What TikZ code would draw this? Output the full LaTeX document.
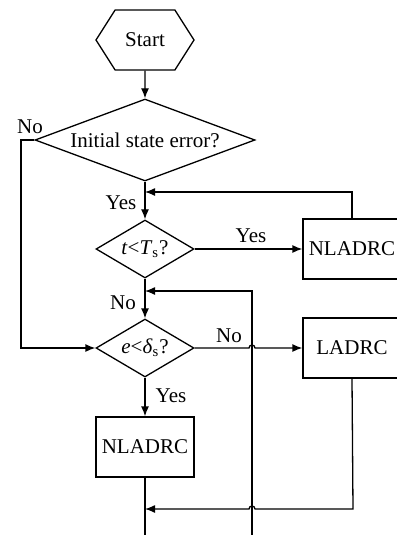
\documentclass[tikz,border=0pt]{standalone}
\usepackage{fontspec}
\setmainfont{Liberation Serif}
\usetikzlibrary{shapes.geometric, shapes.symbols, arrows.meta}

\begin{document}
\begin{tikzpicture}[x=0.5pt, y=-0.5pt, line width=0.65pt,
  font=\fontsize{10.5}{12}\selectfont,
  >={Latex[length=5pt, width=4pt]},
  box/.style={draw, rectangle, minimum width=49pt, minimum height=30pt, inner sep=0pt},
  cond/.style={draw, diamond, inner sep=0pt},
  lbl/.style={inner sep=0pt}]

  \useasboundingbox (0, 0) rectangle (396, 535);

  % blocks
  \node[draw, signal, signal to=west and east, signal pointer angle=115,
        minimum width=49pt, minimum height=30pt, inner sep=0pt] (start) at (145, 40) {Start};
  \node[cond, aspect=2.68, minimum width=110pt, minimum height=41pt] (init) at (145, 140) {Initial state error?};
  \node[cond, aspect=1.69, minimum width=49pt, minimum height=29pt] (tcond) at (145, 249) {\textit{t}<\textit{T}\textsubscript{s}?};
  \node[cond, aspect=1.69, minimum width=49pt, minimum height=29pt] (econd) at (145, 348) {\textit{e}<\textit{δ}\textsubscript{s}?};
  \node[box] (nl1) at (352, 249) {NLADRC};
  \node[box] (lin) at (352, 348) {LADRC};
  \node[box] (nl2) at (145, 447) {NLADRC};

  % corners and free ends
  \coordinate (c1) at (21, 140);
  \coordinate (c2) at (21, 348);
  \coordinate (r1) at (353, 192);
  \coordinate (m1) at (145, 192);
  \coordinate (m2) at (145, 291);
  \coordinate (v1) at (252, 291);
  \coordinate (v2) at (252, 535);
  \coordinate (r2) at (353, 509);
  \coordinate (m3) at (145, 509);
  \coordinate (out) at (145, 535);

  % labels
  \node[lbl] (no1) at (30, 127) {No};
  \node[lbl] (yes1) at (121, 203) {Yes};
  \node[lbl] (yes2) at (251, 236) {Yes};
  \node[lbl] (no2) at (123, 303) {No};
  \node[lbl] (no3) at (229, 336) {No};
  \node[lbl] (yes3) at (171, 396) {Yes};

  % connectors
  \draw[->] (start) -- (init);
  \draw[->] (init) -- (tcond);
  \draw[->] (tcond) -- (econd);
  \draw[->] (econd) -- (nl2);
  \draw[->] (tcond) -- (nl1);
  \draw[->] (init.west) -- (c1) -- (c2) -- (econd.west);
  \draw[->] (nl1.north) |- (m1);
  \draw[->] (v2) -- (v1) -- (m2);
  \draw[->] (econd.east) -- (249, 348)
    arc[start angle=180, end angle=0, radius=1.5pt] -- (lin.west);
  \draw[->] (lin.south) -- (r2) -- (255, 509)
    arc[start angle=0, end angle=180, radius=1.5pt] -- (m3);
  \draw (nl2) -- (out);

\end{tikzpicture}
\end{document}
